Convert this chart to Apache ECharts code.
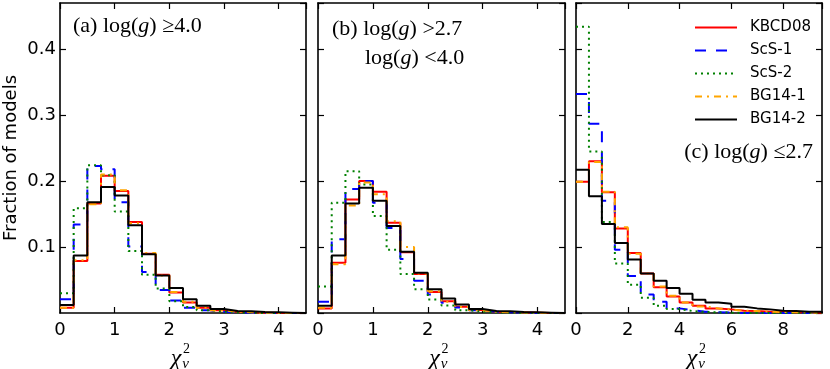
<!DOCTYPE html>
<html>
<head>
<meta charset="utf-8">
<title>chi2 distributions</title>
<script src="https://cdn.jsdelivr.net/npm/echarts@6.0.0/dist/echarts.min.js"></script>
<style>
  html, body { margin: 0; padding: 0; background: #fff; }
  #chart { width: 830px; height: 369px; }
</style>
</head>
<body>
<div id="chart"></div>
<script>
// bin edges of chi2_nu, panels (a) (b) and (c)
const edgesAB = [0, 0.25, 0.5, 0.75, 1, 1.25, 1.5, 1.75, 2, 2.25, 2.5, 2.75, 3, 3.25, 3.5, 3.75, 4, 4.25, 4.5]
const edgesC = [0, 0.5, 1, 1.5, 2, 2.5, 3, 3.5, 4, 4.5, 5, 5.5, 6, 6.5, 7, 7.5, 8, 8.5, 9, 9.5]

// (a) log(g) >= 4.0
const kbcdA = [0.008, 0.079, 0.166, 0.208, 0.185, 0.138, 0.090, 0.058, 0.031, 0.016, 0.008, 0.004, 0.002, 0.001, 0.0005, 0, 0, 0]
const scs1A = [0.021, 0.134, 0.223, 0.218, 0.168, 0.101, 0.062, 0.035, 0.019, 0.008, 0.004, 0.002, 0.001, 0.0005, 0, 0, 0, 0]
const scs2A = [0.030, 0.159, 0.224, 0.209, 0.154, 0.094, 0.058, 0.037, 0.018, 0.009, 0.004, 0.002, 0.001, 0.0005, 0, 0, 0, 0]
const bg141A = [0.008, 0.080, 0.165, 0.210, 0.186, 0.136, 0.091, 0.057, 0.032, 0.017, 0.008, 0.004, 0.002, 0.001, 0.0005, 0, 0, 0]
const bg142A = [0.012, 0.087, 0.168, 0.191, 0.178, 0.133, 0.089, 0.057, 0.038, 0.021, 0.011, 0.006, 0.003, 0.0025, 0.0015, 0.001, 0.0005, 0]

// (b) 2.7 < log(g) < 4.0
const kbcdB = [0.007, 0.076, 0.172, 0.200, 0.184, 0.137, 0.092, 0.059, 0.032, 0.018, 0.0095, 0.0045, 0.002, 0.0015, 0.001, 0.0005, 0, 0]
const scs1B = [0.017, 0.112, 0.188, 0.200, 0.167, 0.129, 0.082, 0.049, 0.028, 0.0155, 0.0085, 0.004, 0.002, 0.001, 0.0005, 0, 0, 0]
const scs2B = [0.040, 0.167, 0.215, 0.195, 0.147, 0.096, 0.059, 0.036, 0.0205, 0.0115, 0.004, 0.002, 0.001, 0.0005, 0, 0, 0, 0]
const bg141B = [0.008, 0.074, 0.163, 0.198, 0.180, 0.139, 0.100, 0.060, 0.033, 0.017, 0.009, 0.004, 0.002, 0.001, 0.001, 0.0005, 0, 0]
const bg142B = [0.011, 0.087, 0.166, 0.190, 0.170, 0.132, 0.093, 0.061, 0.036, 0.022, 0.013, 0.006, 0.003, 0.0025, 0.0015, 0.001, 0.0005, 0]

// (c) log(g) <= 2.7
const kbcdC = [0.199, 0.230, 0.183, 0.128, 0.091, 0.060, 0.039, 0.025, 0.016, 0.011, 0.007, 0.0055, 0.0035, 0.003, 0.002, 0.002, 0.001, 0.001, 0.0005]
const scs1C = [0.332, 0.287, 0.170, 0.096, 0.056, 0.028, 0.017, 0.007, 0.004, 0.002, 0.001, 0.0005, 0, 0, 0, 0, 0, 0, 0]
const scs2C = [0.434, 0.245, 0.138, 0.075, 0.043, 0.023, 0.011, 0.006, 0.003, 0.0015, 0.001, 0.0005, 0, 0, 0, 0, 0, 0, 0]
const bg141C = [0.199, 0.229, 0.184, 0.130, 0.090, 0.060, 0.040, 0.026, 0.016, 0.010, 0.007, 0.005, 0.0035, 0.003, 0.002, 0.0015, 0.001, 0.001, 0.0005]
const bg142C = [0.217, 0.177, 0.135, 0.106, 0.081, 0.060, 0.049, 0.038, 0.029, 0.020, 0.016, 0.014, 0.0096, 0.007, 0.0055, 0.0035, 0.003, 0.002, 0.002]

const names = ['KBCD08', 'ScS-1', 'ScS-2', 'BG14-1', 'BG14-2']
const yTicks = [0.1, 0.2, 0.3, 0.4]
const xTicksAB = [0, 1, 2, 3, 4]
const xTicksC = [0, 2, 4, 6, 8]

const lineStyles = {
  'KBCD08': { color: '#ff0000', type: 'solid' },
  'ScS-1': { color: '#0000ff', type: [11, 10] },
  'ScS-2': { color: '#008000', type: [2, 4] },
  'BG14-1': { color: '#ffa500', type: [7, 5, 2, 5] },
  'BG14-2': { color: '#000000', type: 'solid' }
}

const panels = [
  { left: 60, width: 246, edges: edgesAB, xMax: 4.5, xInterval: 1, xTicks: xTicksAB, sets: [kbcdA, scs1A, scs2A, bg141A, bg142A] },
  { left: 318, width: 247, edges: edgesAB, xMax: 4.5, xInterval: 1, xTicks: xTicksAB, sets: [kbcdB, scs1B, scs2B, bg141B, bg142B] },
  { left: 576, width: 246, edges: edgesC, xMax: 9.5, xInterval: 2, xTicks: xTicksC, sets: [kbcdC, scs1C, scs2C, bg141C, bg142C] }
]

const has = (list, v) => list.some(t => Math.abs(t - v) < 1e-9)

// step outline like a matplotlib 'step' histogram
function stepPoints(edges, values) {
  const pts = values.map((v, i) => [edges[i], v])
  const n = values.length
  pts.push([edges[n], values[n - 1]])
  pts.push([edges[n], 0])
  return pts
}

const frame = { show: true, onZero: false, lineStyle: { color: '#000', width: 1.6 } }
const ticks = { show: true, inside: true, length: 6, lineStyle: { color: '#000', width: 1.2 } }
const tickFont = { color: '#000', fontFamily: 'DejaVu Sans', fontSize: 18 }

const grid = []
const xAxis = []
const yAxis = []
const series = []

panels.forEach((p, k) => {
  grid.push({ left: p.left, width: p.width, top: 3, height: 310 })
  // bottom + mirrored top
  xAxis.push({
    type: 'value', gridIndex: k, position: 'bottom', min: 0, max: p.xMax, interval: p.xInterval,
    axisLine: frame, axisTick: ticks, splitLine: { show: false },
    axisLabel: { ...tickFont, margin: 8, showMaxLabel: false, formatter: v => has(p.xTicks, v) ? String(v) : '' }
  })
  xAxis.push({
    type: 'value', gridIndex: k, position: 'top', min: 0, max: p.xMax, interval: p.xInterval,
    axisLine: frame, axisTick: ticks, splitLine: { show: false }, axisLabel: { show: false }
  })
  // left + mirrored right
  yAxis.push({
    type: 'value', gridIndex: k, position: 'left', min: 0, max: 0.47, interval: 0.1,
    axisLine: frame, axisTick: ticks, splitLine: { show: false },
    axisLabel: k === 0
      ? { ...tickFont, margin: 4, showMinLabel: false, showMaxLabel: false, formatter: v => has(yTicks, v) ? v.toFixed(1) : '' }
      : { show: false },
    name: k === 0 ? 'Fraction of models' : '',
    nameLocation: 'middle',
    nameGap: 40,
    nameTextStyle: { color: '#000', fontFamily: 'DejaVu Sans', fontSize: 18 }
  })
  yAxis.push({
    type: 'value', gridIndex: k, position: 'right', min: 0, max: 0.47, interval: 0.1,
    axisLine: frame, axisTick: ticks, splitLine: { show: false }, axisLabel: { show: false }
  })
  names.forEach((name, i) => {
    series.push({
      name: name,
      type: 'line',
      xAxisIndex: 2 * k,
      yAxisIndex: 2 * k,
      step: 'end',
      symbol: 'none',
      silent: true,
      animation: false,
      lineStyle: { width: 2, color: lineStyles[name].color, type: lineStyles[name].type, cap: 'butt' },
      itemStyle: { color: lineStyles[name].color },
      z: 2 + i,
      data: stepPoints(p.edges, p.sets[i])
    })
  })
})

const serif = 'Liberation Serif'
const annRich = {
  n: { fontFamily: serif, fontSize: 22, color: '#000' },
  i: { fontFamily: serif, fontSize: 22, fontStyle: 'italic', color: '#000' }
}
function note(x, y, text, align) {
  return { type: 'text', x: x, y: y, style: { text: text, rich: annRich, align: align || 'left', verticalAlign: 'middle' } }
}
// chi^2_nu axis titles
function chiLabel(cx) {
  return [
    { type: 'text', x: cx - 7, y: 359, style: { text: 'χ', fontFamily: serif, fontStyle: 'italic', fontSize: 24, fill: '#000', align: 'center', verticalAlign: 'middle' } },
    { type: 'text', x: cx + 3.5, y: 349, style: { text: '2', fontFamily: serif, fontSize: 14, fill: '#000', align: 'center', verticalAlign: 'middle' } },
    { type: 'text', x: cx + 2.5, y: 364, style: { text: 'ν', fontFamily: serif, fontStyle: 'italic', fontSize: 15, fill: '#000', align: 'center', verticalAlign: 'middle' } }
  ]
}

const graphic = [
  note(73, 26, '{n|(a) log(}{i|g}{n|) ≥4.0}'),
  note(332, 29, '{n|(b) log(}{i|g}{n|) >2.7}'),
  note(365, 58, '{n|log(}{i|g}{n|) <4.0}'),
  note(813, 152, '{n|(c) log(}{i|g}{n|) ≤2.7}', 'right'),
  ...chiLabel(183),
  ...chiLabel(441.5),
  ...chiLabel(699)
]

const chart = echarts.init(document.getElementById('chart'), null, { renderer: 'canvas' })
chart.setOption({
  animation: false,
  backgroundColor: '#fff',
  grid: grid,
  xAxis: xAxis,
  yAxis: yAxis,
  legend: {
    data: names,
    orient: 'vertical',
    left: 689,
    top: 15,
    itemWidth: 42,
    itemHeight: 14,
    itemGap: 8,
    selectedMode: false,
    itemStyle: { opacity: 0 },
    textStyle: { color: '#000', fontFamily: 'DejaVu Sans', fontSize: 15, padding: [0, 0, 0, 8] }
  },
  graphic: graphic,
  series: series
})
</script>
</body>
</html>
